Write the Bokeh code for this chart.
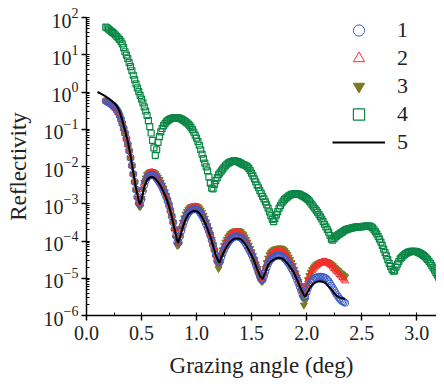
import numpy as np
from bokeh.plotting import figure
from bokeh.models import (Range1d, SingleIntervalTicker, PrintfTickFormatter,
                          Legend, LegendItem, LogTicker, LogTickFormatter)
from bokeh.embed import file_html
from bokeh.resources import INLINE

# ---- data: log10(reflectivity), scan step 0.0125 deg ----
start_angle = 0.175
step_angle = 0.0125

lg1 = [-0.24, -0.26, -0.28, -0.30, -0.33, -0.36, -0.39, -0.43,
       -0.48, -0.54, -0.62, -0.72, -0.84, -0.97, -1.10, -1.25,
       -1.40, -1.57, -1.76, -1.97, -2.20, -2.41, -2.62, -2.82,
       -2.98, -3.02, -2.88, -2.66, -2.50, -2.38, -2.30, -2.26,
       -2.23, -2.22, -2.22, -2.24, -2.27, -2.32, -2.37, -2.43,
       -2.49, -2.56, -2.64, -2.73, -2.82, -2.93, -3.05, -3.19,
       -3.34, -3.50, -3.68, -3.86, -4.03, -4.04, -3.88, -3.72,
       -3.59, -3.47, -3.38, -3.31, -3.25, -3.20, -3.17, -3.16,
       -3.15, -3.14, -3.15, -3.17, -3.21, -3.26, -3.32, -3.39,
       -3.47, -3.56, -3.65, -3.75, -3.86, -3.98, -4.11, -4.24,
       -4.38, -4.52, -4.58, -4.55, -4.43, -4.33, -4.24, -4.16,
       -4.10, -4.04, -3.99, -3.95, -3.92, -3.90, -3.88, -3.87,
       -3.88, -3.89, -3.91, -3.94, -3.98, -4.03, -4.09, -4.15,
       -4.22, -4.29, -4.36, -4.45, -4.54, -4.64, -4.74, -4.85,
       -4.95, -5.03, -5.04, -4.94, -4.83, -4.71, -4.61, -4.54,
       -4.49, -4.46, -4.43, -4.41, -4.40, -4.39, -4.39, -4.40,
       -4.41, -4.44, -4.47, -4.51, -4.56, -4.61, -4.67, -4.73,
       -4.79, -4.87, -4.95, -5.04, -5.13, -5.23, -5.33, -5.43,
       -5.50, -5.50, -5.38, -5.27, -5.18, -5.11, -5.06, -5.03,
       -5.00, -4.98, -4.97, -4.96, -4.96, -4.96, -4.97, -4.98,
       -5.00, -5.04, -5.08, -5.14, -5.20, -5.26, -5.32, -5.39,
       -5.45, -5.50, -5.55, -5.59, -5.62, -5.64, -5.66]

lg2 = [-0.24, -0.26, -0.28, -0.30, -0.33, -0.36, -0.40, -0.44,
       -0.49, -0.55, -0.63, -0.73, -0.85, -0.98, -1.11, -1.26,
       -1.41, -1.58, -1.77, -1.98, -2.20, -2.41, -2.62, -2.81,
       -2.97, -3.00, -2.84, -2.61, -2.44, -2.32, -2.24, -2.20,
       -2.17, -2.16, -2.16, -2.18, -2.21, -2.26, -2.31, -2.37,
       -2.44, -2.52, -2.60, -2.69, -2.79, -2.90, -3.03, -3.17,
       -3.32, -3.48, -3.66, -3.85, -4.03, -4.02, -3.84, -3.67,
       -3.52, -3.40, -3.31, -3.24, -3.18, -3.14, -3.11, -3.10,
       -3.09, -3.08, -3.09, -3.11, -3.15, -3.20, -3.26, -3.33,
       -3.41, -3.50, -3.60, -3.71, -3.82, -3.95, -4.08, -4.22,
       -4.36, -4.50, -4.57, -4.50, -4.36, -4.24, -4.14, -4.05,
       -3.98, -3.92, -3.87, -3.83, -3.80, -3.78, -3.77, -3.76,
       -3.77, -3.78, -3.80, -3.84, -3.88, -3.94, -4.00, -4.07,
       -4.14, -4.22, -4.30, -4.39, -4.49, -4.59, -4.70, -4.81,
       -4.92, -5.00, -5.02, -4.89, -4.74, -4.60, -4.49, -4.42,
       -4.36, -4.33, -4.30, -4.28, -4.27, -4.26, -4.26, -4.26,
       -4.27, -4.30, -4.33, -4.37, -4.42, -4.48, -4.54, -4.61,
       -4.68, -4.76, -4.85, -4.94, -5.04, -5.14, -5.24, -5.34,
       -5.40, -5.38, -5.17, -5.05, -4.95, -4.87, -4.80, -4.75,
       -4.70, -4.67, -4.64, -4.61, -4.59, -4.57, -4.56, -4.56,
       -4.56, -4.58, -4.60, -4.63, -4.66, -4.70, -4.74, -4.78,
       -4.82, -4.86, -4.90, -4.94, -4.98, -5.02, -5.07]

lg3 = [-0.24, -0.26, -0.28, -0.31, -0.34, -0.37, -0.40, -0.44,
       -0.49, -0.55, -0.63, -0.74, -0.86, -0.99, -1.12, -1.27,
       -1.42, -1.59, -1.78, -1.99, -2.21, -2.43, -2.64, -2.86,
       -3.05, -3.08, -2.86, -2.61, -2.43, -2.31, -2.22, -2.18,
       -2.15, -2.14, -2.14, -2.16, -2.19, -2.24, -2.29, -2.35,
       -2.42, -2.50, -2.58, -2.68, -2.78, -2.90, -3.03, -3.17,
       -3.33, -3.50, -3.70, -3.92, -4.12, -4.10, -3.86, -3.66,
       -3.50, -3.38, -3.28, -3.21, -3.15, -3.11, -3.08, -3.07,
       -3.06, -3.05, -3.06, -3.08, -3.12, -3.17, -3.23, -3.31,
       -3.39, -3.49, -3.59, -3.70, -3.82, -3.96, -4.10, -4.26,
       -4.42, -4.60, -4.74, -4.62, -4.38, -4.24, -4.12, -4.03,
       -3.96, -3.89, -3.84, -3.80, -3.77, -3.75, -3.73, -3.72,
       -3.72, -3.73, -3.75, -3.79, -3.83, -3.89, -3.96, -4.03,
       -4.11, -4.20, -4.29, -4.39, -4.50, -4.62, -4.74, -4.87,
       -5.00, -5.08, -5.08, -4.90, -4.74, -4.58, -4.46, -4.37,
       -4.31, -4.27, -4.24, -4.22, -4.21, -4.20, -4.19, -4.19,
       -4.20, -4.23, -4.26, -4.31, -4.36, -4.43, -4.50, -4.58,
       -4.66, -4.76, -4.86, -4.97, -5.08, -5.21, -5.35, -5.52,
       -5.72, -5.60, -5.20, -5.04, -4.93, -4.84, -4.77, -4.72,
       -4.67, -4.64, -4.61, -4.59, -4.57, -4.56, -4.55, -4.55,
       -4.55, -4.56, -4.58, -4.60, -4.63, -4.66, -4.70, -4.73,
       -4.77, -4.80, -4.84, -4.87, -4.90, -4.93, -4.96]

lg4 = [1.74, 1.72, 1.69, 1.66, 1.63, 1.60, 1.57, 1.53,
       1.49, 1.45, 1.41, 1.36, 1.29, 1.19, 1.08, 0.99,
       0.90, 0.79, 0.68, 0.57, 0.45, 0.33, 0.22, 0.11,
       0.01, -0.09, -0.19, -0.29, -0.40, -0.51, -0.63, -0.77,
       -0.93, -1.10, -1.30, -1.50, -1.70, -1.55, -1.35, -1.20,
       -1.07, -0.98, -0.90, -0.85, -0.80, -0.77, -0.74, -0.72,
       -0.71, -0.70, -0.69, -0.69, -0.69, -0.70, -0.71, -0.73,
       -0.75, -0.77, -0.80, -0.83, -0.86, -0.90, -0.95, -1.01,
       -1.08, -1.16, -1.24, -1.33, -1.43, -1.55, -1.67, -1.79,
       -1.91, -2.01, -2.12, -2.28, -2.45, -2.58, -2.60, -2.48,
       -2.38, -2.30, -2.22, -2.17, -2.12, -2.07, -2.02, -1.98,
       -1.94, -1.91, -1.89, -1.87, -1.86, -1.85, -1.85, -1.86,
       -1.87, -1.89, -1.91, -1.93, -1.95, -1.96, -1.98, -2.01,
       -2.05, -2.11, -2.18, -2.25, -2.33, -2.41, -2.50, -2.57,
       -2.65, -2.72, -2.80, -2.87, -2.95, -3.03, -3.12, -3.22,
       -3.32, -3.42, -3.48, -3.40, -3.30, -3.21, -3.12, -3.05,
       -2.98, -2.93, -2.88, -2.85, -2.82, -2.79, -2.77, -2.75,
       -2.74, -2.73, -2.73, -2.73, -2.74, -2.75, -2.77, -2.79,
       -2.81, -2.83, -2.86, -2.89, -2.93, -2.98, -3.03, -3.08,
       -3.13, -3.18, -3.23, -3.29, -3.35, -3.41, -3.48, -3.55,
       -3.62, -3.69, -3.76, -3.85, -3.95, -3.98, -3.93, -3.89,
       -3.86, -3.83, -3.81, -3.78, -3.76, -3.73, -3.71, -3.69,
       -3.68, -3.67, -3.66, -3.65, -3.64, -3.63, -3.63, -3.62,
       -3.62, -3.62, -3.62, -3.61, -3.61, -3.60, -3.60, -3.60,
       -3.60, -3.62, -3.65, -3.70, -3.75, -3.81, -3.88, -3.95,
       -4.03, -4.12, -4.22, -4.31, -4.40, -4.50, -4.60, -4.68,
       -4.76, -4.81, -4.80, -4.70, -4.62, -4.55, -4.48, -4.44,
       -4.40, -4.37, -4.34, -4.32, -4.30, -4.29, -4.28, -4.28,
       -4.28, -4.28, -4.29, -4.30, -4.32, -4.34, -4.36, -4.39,
       -4.42, -4.46, -4.50, -4.55, -4.60, -4.66, -4.72, -4.78,
       -4.85, -4.91, -4.98, -5.03, -5.08]

angle_fit = [0.100, 0.125, 0.150, 0.175, 0.200, 0.225, 0.250, 0.275, 0.300, 0.325,
             0.350, 0.375, 0.400, 0.425, 0.450, 0.475, 0.485, 0.500, 0.525, 0.550,
             0.575, 0.600, 0.625, 0.650, 0.675, 0.700, 0.725, 0.750, 0.775, 0.800,
             0.825, 0.832, 0.850, 0.875, 0.900, 0.925, 0.950, 0.975, 1.000, 1.025,
             1.050, 1.075, 1.100, 1.125, 1.150, 1.175, 1.200, 1.210, 1.225, 1.250,
             1.275, 1.300, 1.325, 1.350, 1.375, 1.400, 1.425, 1.450, 1.475, 1.500,
             1.525, 1.550, 1.575, 1.598, 1.625, 1.650, 1.675, 1.700, 1.725, 1.750,
             1.775, 1.800, 1.825, 1.850, 1.875, 1.900, 1.925, 1.950, 1.975, 1.990,
             2.000, 2.025, 2.050, 2.075, 2.100, 2.125, 2.150, 2.175, 2.200, 2.225,
             2.250, 2.275, 2.300, 2.325, 2.350]
lg_fit = [0.00, -0.04, -0.08, -0.12, -0.17, -0.23, -0.29, -0.37, -0.52, -0.76,
          -1.03, -1.33, -1.70, -2.15, -2.58, -2.92, -3.02, -2.90, -2.55, -2.36,
          -2.29, -2.28, -2.33, -2.42, -2.53, -2.68, -2.85, -3.07, -3.35, -3.68,
          -4.00, -4.05, -3.90, -3.63, -3.42, -3.29, -3.22, -3.19, -3.20, -3.25,
          -3.36, -3.50, -3.68, -3.88, -4.12, -4.38, -4.55, -4.58, -4.45, -4.28,
          -4.15, -4.04, -3.97, -3.93, -3.93, -3.95, -4.02, -4.12, -4.25, -4.38,
          -4.55, -4.75, -4.93, -5.02, -4.85, -4.65, -4.55, -4.50, -4.46, -4.45,
          -4.46, -4.52, -4.60, -4.70, -4.80, -4.95, -5.12, -5.30, -5.45, -5.50,
          -5.42, -5.28, -5.18, -5.12, -5.09, -5.08, -5.10, -5.14, -5.22, -5.30,
          -5.40, -5.48, -5.52, -5.54, -5.55]

labels = ["1", "2", "3", "4", "5"]


def angles(lst):
    return start_angle + step_angle * np.arange(len(lst))


def R(lst):
    return [10 ** v for v in lst]


# ---- figure ----
FONT = "Liberation Serif"
TICK_FONT = "Times New Roman"
TXT = "#222222"
p = figure(width=436, height=380, output_backend="svg", toolbar_location=None,
           y_axis_type="log", x_range=Range1d(0, 3.18), y_range=Range1d(1e-6, 1e2),
           min_border_left=86, min_border_right=0, min_border_top=17, min_border_bottom=61)
p.outline_line_color = None
p.xgrid.visible = False
p.ygrid.visible = False
p.background_fill_color = "white"

r3 = p.scatter(angles(lg3), R(lg3), marker="inverted_triangle", size=7,
               fill_color="#7a7a20", line_color="#7a7a20", line_width=1)
r2 = p.scatter(angles(lg2), R(lg2), marker="triangle", size=7,
               fill_color=None, line_color="#ff2a2a", line_width=1)
r1 = p.scatter(angles(lg1), R(lg1), marker="circle", size=7,
               fill_color=None, line_color="#3a5cc8", line_width=1)
r4 = p.scatter(angles(lg4), R(lg4), marker="square", size=6,
               fill_color=None, line_color="#0a8644", line_width=1.2)
r5 = p.line(angle_fit, R(lg_fit), line_color="black", line_width=2)

p.xaxis.ticker = SingleIntervalTicker(interval=0.5, num_minor_ticks=2)
p.xaxis.formatter = PrintfTickFormatter(format="%.1f")
p.yaxis.ticker = LogTicker(num_minor_ticks=10)
p.yaxis.formatter = LogTickFormatter()

p.axis.axis_line_color = "black"
p.axis.axis_line_width = 1.5
p.axis.major_tick_line_color = "black"
p.axis.major_tick_line_width = 1.5
p.axis.minor_tick_line_color = "black"
p.axis.major_tick_out = 5
p.axis.major_tick_in = 0
p.axis.minor_tick_out = 0
p.axis.minor_tick_in = 3
p.axis.major_label_text_font = TICK_FONT
p.axis.major_label_text_font_style = "normal"
p.axis.major_label_text_font_size = "20px"
p.axis.major_label_text_color = TXT
p.axis.axis_label_text_font = FONT
p.axis.axis_label_text_font_size = "23px"
p.axis.axis_label_text_font_style = "normal"
p.axis.axis_label_text_color = TXT

p.xaxis.axis_label = "Grazing angle (deg)"
p.yaxis.axis_label = "Reflectivity"
p.xaxis.major_label_standoff = 5
p.yaxis.major_label_standoff = 3
p.xaxis.axis_label_standoff = 10
p.yaxis.axis_label_standoff = 10

legend = Legend(items=[LegendItem(label=labels[0], renderers=[r1]),
                       LegendItem(label=labels[1], renderers=[r2]),
                       LegendItem(label=labels[2], renderers=[r3]),
                       LegendItem(label=labels[3], renderers=[r4]),
                       LegendItem(label=labels[4], renderers=[r5])],
                location=(246, 159), glyph_width=53, glyph_height=28, label_height=28,
                spacing=0, padding=0, margin=0, border_line_color=None,
                background_fill_alpha=0, label_standoff=12,
                label_text_font=FONT, label_text_font_size="22px",
                label_text_color=TXT)
p.add_layout(legend)

open("out.html", "w").write(file_html(p, INLINE))
